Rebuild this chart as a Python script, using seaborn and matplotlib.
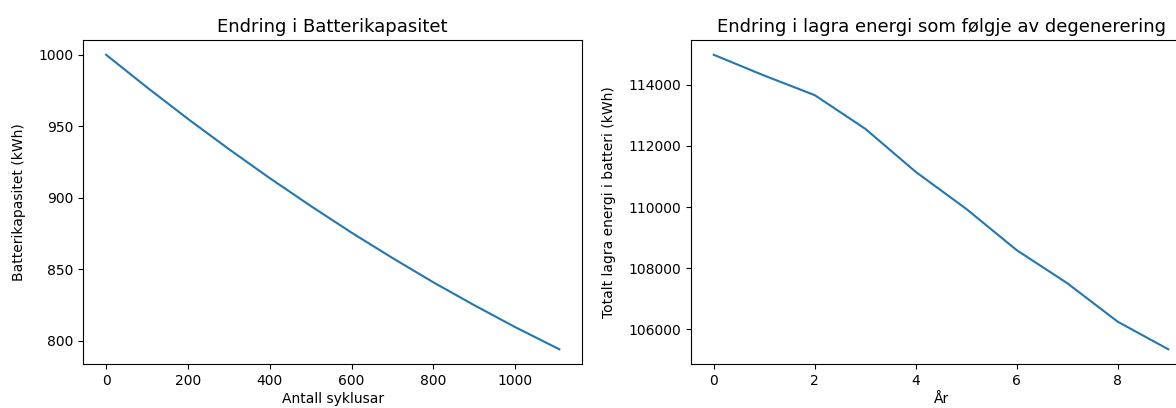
import matplotlib
matplotlib.use("Agg")
import matplotlib.pyplot as plt
import seaborn as sns
import pandas as pd

# Battery capacity versus number of charge cycles
cycles = [0, 100, 200, 300, 400, 500, 600, 700, 800, 900, 1000, 1108]
capacity_kwh = [1000.0, 977.2, 955.2, 934.1, 913.8, 894.4, 875.7, 858.0, 841.0, 825.0, 809.7, 794.2]

# Total stored energy per year as the battery degrades
years = [0, 1, 2, 3, 4, 5, 6, 7, 8, 9]
stored_energy_kwh = [114980, 114300, 113660, 112560, 111150, 109940, 108590, 107510, 106250, 105350]

plt.rcParams["font.family"] = ["DejaVu Sans"]
plt.rcParams["font.size"] = 10

fig = plt.figure(figsize=(11.76, 4.08), dpi=100)
ax1 = fig.add_axes([0.0710, 0.1078, 0.4239, 0.794])
ax2 = fig.add_axes([0.5876, 0.1078, 0.4252, 0.794])

df_cap = pd.DataFrame({"cycles": cycles, "capacity": capacity_kwh})
df_energy = pd.DataFrame({"year": years, "energy": stored_energy_kwh})

sns.lineplot(data=df_cap, x="cycles", y="capacity", ax=ax1, color="#1f77b4", linewidth=1.5)
sns.lineplot(data=df_energy, x="year", y="energy", ax=ax2, color="#1f77b4", linewidth=1.5)

ax1.set_title("Endring i Batterikapasitet", fontsize=13)
ax1.set_xlabel("Antall syklusar", labelpad=3)
ax1.set_ylabel("Batterikapasitet (kWh)", labelpad=9)
ax1.set_xticks([0, 200, 400, 600, 800, 1000])
ax1.set_yticks([800, 850, 900, 950, 1000])

ax2.set_title("Endring i lagra energi som følgje av degenerering", fontsize=13)
ax2.set_xlabel("År", labelpad=3)
ax2.set_ylabel("Totalt lagra energi i batteri (kWh)", labelpad=9)
ax2.set_xticks([0, 2, 4, 6, 8])
ax2.set_yticks([106000, 108000, 110000, 112000, 114000])

fig.savefig("out.png", dpi=100)
